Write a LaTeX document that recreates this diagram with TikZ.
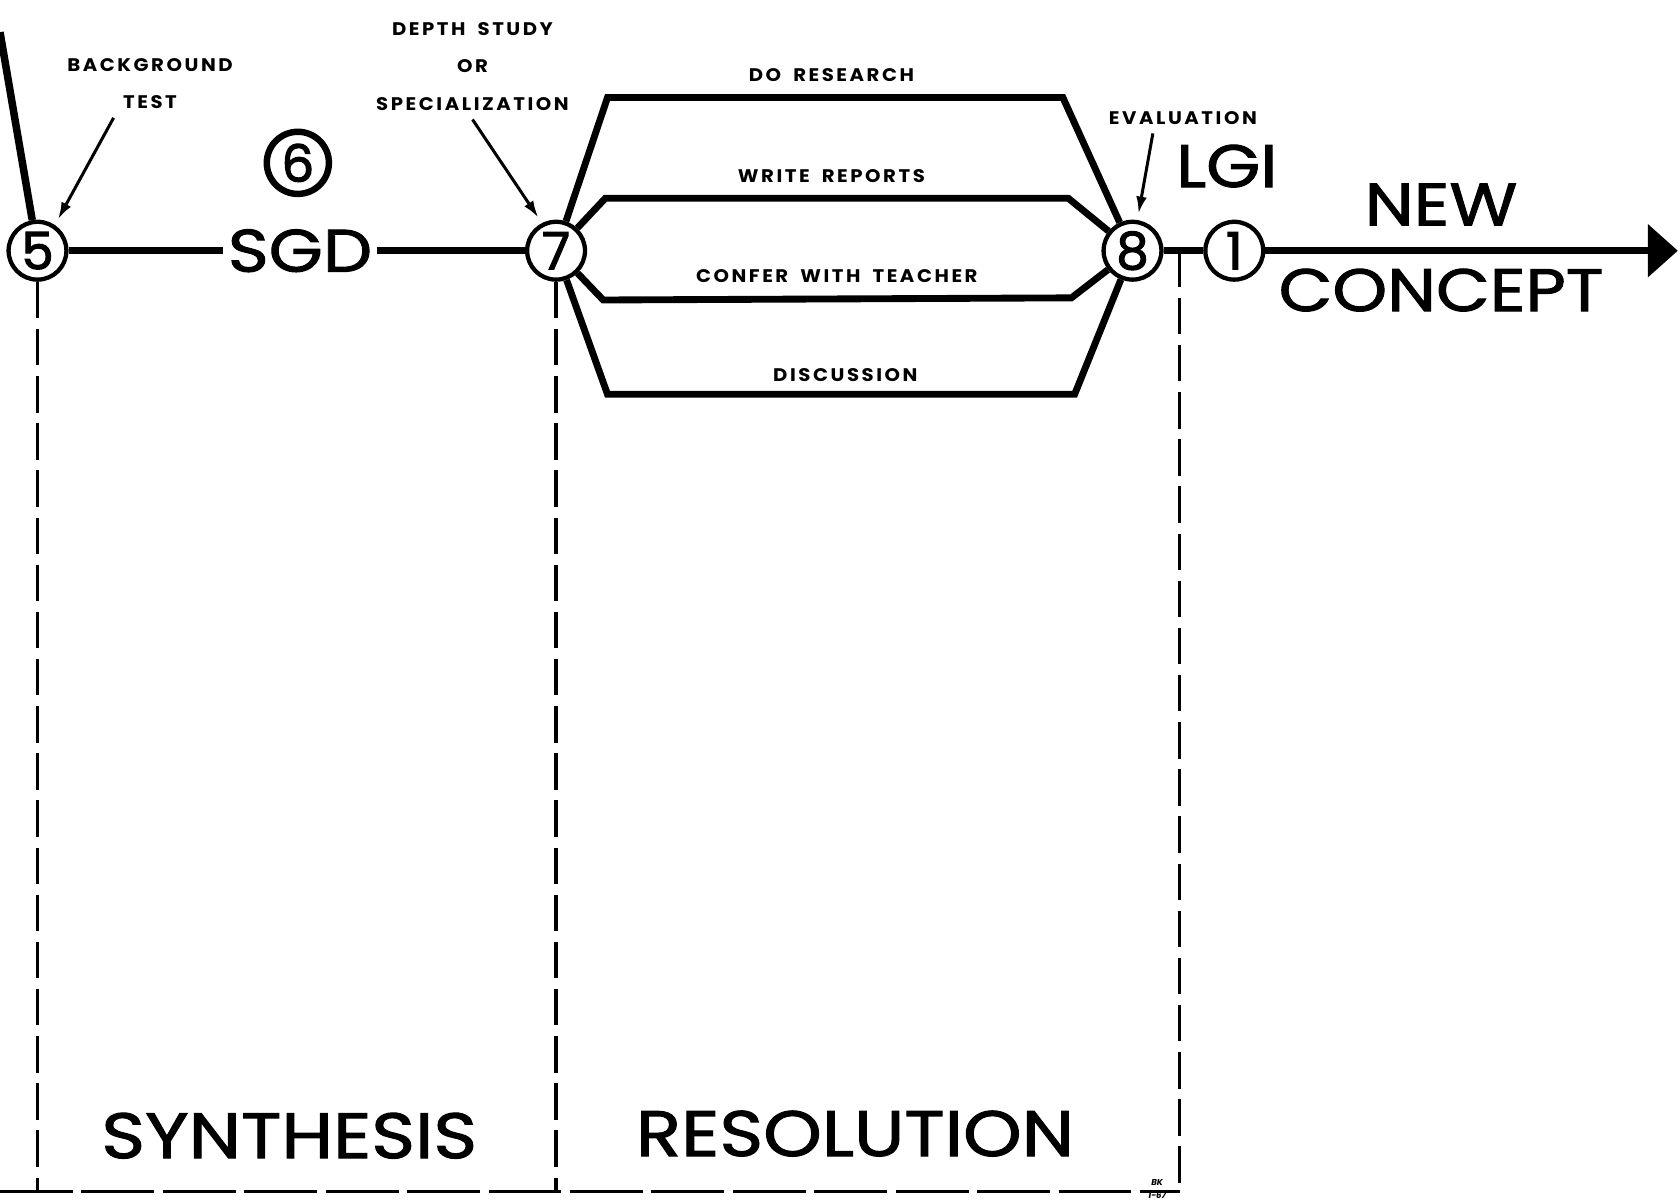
\documentclass[tikz,border=0pt]{standalone}
\usepackage{fontspec}
\usetikzlibrary{arrows.meta,calc}
\setmainfont{Poppins}
\newfontfamily\tagfam[LetterSpace=14.0, WordSpace=1.8, FakeStretch=1.08]{Poppins}
\newfontfamily\medfam[FakeBold=1.6, FakeStretch=1.16]{Poppins}
\newfontfamily\digitfam[FakeBold=2.2]{Poppins}
\newcommand\tagfont{\tagfam\bfseries\fontsize{8.5}{17.5}\selectfont}
\newcommand\bigfont{\medfam\fontsize{28}{34}\selectfont}
\newcommand\stagefont{\digitfam\fontsize{24}{24}\selectfont}

\tikzset{
  stage/.style={circle, draw, line width=2pt, minimum size=27pt,
                inner sep=0pt, font=\stagefont},
  spine/.style={line width=3.5pt},
  branch/.style={line width=3.2pt, line join=miter},
  pointer/.style={line width=1.4pt, -{Latex[length=8pt,width=5pt]},
                  shorten >=3pt},
  zone/.style={line width=1.5pt, dash pattern=on 17pt off 5pt},
  floor/.style={line width=1.5pt, dash pattern=on 34pt off 4pt},
  tagtext/.style={font=\tagfont, align=center, inner sep=1pt},
  bigtext/.style={font=\bigfont, inner sep=2pt},
}

\begin{document}
\begin{tikzpicture}[x=0.5pt, y=-0.5pt]
\useasboundingbox (0,0) rectangle (1568,1123);

%% stages on the main line ===========================================
\node[stage] (c5) at (35,234) {5};
\node[bigtext] (sgd) at (280,234) {SGD};
\node[stage] (c7) at (519,234) {7};
\node[stage] (c8) at (1057,234) {8};
\node[stage] (c1) at (1152,234) {1};
\node[stage, line width=3pt, minimum size=29pt] (c6) at (278,152) {6};

%% labels ============================================================
\node[tagtext] (bg) at (140,78) {BACKGROUND\\TEST};
\node[tagtext] (depth) at (441,62) {DEPTH STUDY\\OR\\SPECIALIZATION};
\node[tagtext] (dores) at (776,70) {DO RESEARCH};
\node[tagtext] (wrrep) at (776,164) {WRITE REPORTS};
\node[tagtext] (confer) at (781,258) {CONFER WITH TEACHER};
\node[tagtext] (dsc) at (789,350) {DISCUSSION};
\node[tagtext] (eval) at (1104,110) {EVALUATION};
\node[bigtext] (lgi) at (1145,155) {LGI};
\node[bigtext, align=center] (newc) at (1345,231) {NEW\\[6pt]CONCEPT};
\node[bigtext, font=\medfam\fontsize{30}{30}\selectfont] (syn) at (270,1060) {SYNTHESIS};
\node[bigtext, font=\medfam\fontsize{30}{30}\selectfont] (res) at (798,1058) {RESOLUTION};
\node[align=center, inner sep=0pt, font=\bfseries\itshape\fontsize{4}{4}\selectfont]
  (sig) at (1080,1110) {BK\\[-1pt]\rule{13pt}{0.6pt}\\[-1pt]1-67};

%% spine =============================================================
\coordinate (tl) at (0,30);
\coordinate (jr) at (1101,234);
\coordinate (tip) at (1566,234);
\draw[spine] (tl) -- (c5);
\draw[spine] (c5) -- (sgd);
\draw[spine] (sgd) -- (c7);
\draw[spine] (c8) -- (c1);
\draw[spine, -{Triangle[length=14pt,width=24pt]}] (c1) -- (tip);

%% four branches between 7 and 8 =====================================
\coordinate (drA) at (567,91);  \coordinate (drB) at (992,91);
\coordinate (wrA) at (565,185); \coordinate (wrB) at (997,185);
\coordinate (cfA) at (563,280); \coordinate (cfB) at (1000,278);
\coordinate (dsA) at (567,368); \coordinate (dsB) at (1003,368);
\draw[branch] (c7) -- (drA) -- (drB) -- (c8);
\draw[branch] (c7) -- (wrA) -- (wrB) -- (c8);
\draw[branch] (c7) -- (cfA) -- (cfB) -- (c8);
\draw[branch] (c7) -- (dsA) -- (dsB) -- (c8);

%% pointers ==========================================================
\draw[pointer] ([xshift=-17pt,yshift=-3pt]bg.south) -- (c5.56);
\draw[pointer] ([yshift=-3pt]depth.south) -- (c7.117);
\draw[pointer] ([xshift=-14pt,yshift=-3pt]eval.south) -- (c8.81);

%% phase frames ======================================================
\coordinate (fl) at (0,1112);
\coordinate (fr) at (1101,1112);
\draw[floor] (fl) -- (fr);
\draw[zone] (c5) -- (c5 |- fl);
\draw[zone] (c7) -- (c7 |- fl);
\draw[zone] (jr) -- (fr);

\end{tikzpicture}
\end{document}
